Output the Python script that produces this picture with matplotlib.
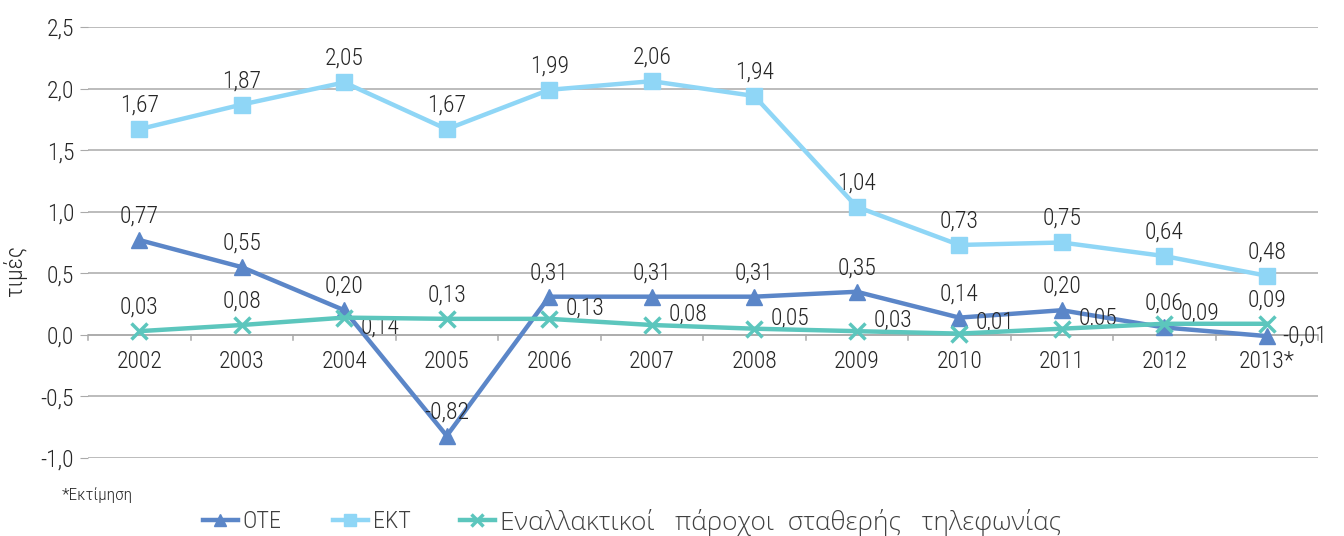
import matplotlib
matplotlib.use("Agg")
import matplotlib.pyplot as plt
from matplotlib.font_manager import FontProperties

plt.rcParams['font.family'] = ['Roboto Condensed', 'DejaVu Sans']
plt.rcParams['font.weight'] = 300

years = ["2002", "2003", "2004", "2005", "2006", "2007", "2008", "2009", "2010", "2011", "2012", "2013*"]
ote = [0.77, 0.55, 0.20, -0.82, 0.31, 0.31, 0.31, 0.35, 0.14, 0.20, 0.06, -0.01]
ekt = [1.67, 1.87, 2.05, 1.67, 1.99, 2.06, 1.94, 1.04, 0.73, 0.75, 0.64, 0.48]
alt = [0.03, 0.08, 0.14, 0.13, 0.13, 0.08, 0.05, 0.03, 0.01, 0.05, 0.09, 0.09]
names = ["OTE", "EKT", "Εναλλακτικοί   πάροχοι  σταθερής   τηλεφωνίας"]

# where each value label sits: a = above, r = right (up), rd = right (down), r0 = right
pos_ote = ["a"] * 11 + ["r0"]
pos_ekt = ["a"] * 12
pos_alt = ["a", "a", "rd", "a", "r", "r", "r", "r", "r", "r", "r", "a"]

c_ote = "#5b86c8"
c_ekt = "#8fd6f6"
c_alt = "#5cc6bd"
txt = "#262626"
fs = 17

fig = plt.figure(figsize=(13.44, 5.36), dpi=100)
ax = fig.add_axes([88/1344, 1-458/536, (1318-88)/1344, (458-27)/536])

x = list(range(len(years)))
h1, = ax.plot(x, ote, color=c_ote, lw=3.2, marker="^", ms=11, zorder=3)
h2, = ax.plot(x, ekt, color=c_ekt, lw=3.2, marker="s", ms=11, zorder=3)
h3, = ax.plot(x, alt, color=c_alt, lw=3.2, marker="x", ms=11, mew=2.5, zorder=4)

offsets = {"a": (0, 9, "center", "bottom"), "r": (12, 8, "left", "center"),
           "r0": (11, 0, "left", "center"), "rd": (12, -7, "left", "center")}

def lab(vals, where):
    for i, (v, w) in enumerate(zip(vals, where)):
        dx, dy, ha, va = offsets[w]
        ax.annotate(f"{v:.2f}".replace(".", ","), (i, v), xytext=(dx, dy),
                    textcoords="offset points", ha=ha, va=va, fontsize=fs,
                    color=txt, annotation_clip=False)

lab(ote, pos_ote)
lab(ekt, pos_ekt)
lab(alt, pos_alt)

ax.set_xlim(-0.5, len(years) - 0.5)
ax.set_ylim(-1.0, 2.5)
yt = [-1.0, -0.5, 0.0, 0.5, 1.0, 1.5, 2.0, 2.5]
ax.set_yticks(yt)
ax.set_yticklabels([f"{t:.1f}".replace(".", ",") for t in yt], fontsize=fs, color=txt)
ax.tick_params(axis="y", length=6, color="#aaaaaa", pad=4)
ax.grid(axis="y", color="#aaaaaa", lw=1.1)
ax.set_axisbelow(True)
for s in ["top", "right", "left", "bottom"]:
    ax.spines[s].set_visible(False)

# category axis drawn on the zero line
ax.axhline(0, color="#aaaaaa", lw=1.1, zorder=1)
ax.set_xticks([])
for b in range(len(years) + 1):
    ax.plot([b - 0.5, b - 0.5], [0, -0.045], color="#aaaaaa", lw=1.1, clip_on=False, zorder=1)
for i, y in enumerate(years):
    ax.annotate(y, (i, 0), xytext=(0, -11), textcoords="offset points",
                ha="center", va="top", fontsize=fs, color=txt)

fig.text(15/1344, 1-270/536, "τιμές", rotation=90, ha="center", va="center", fontsize=fs, color=txt)
fig.text(62/1344, 1-495/536, "*Εκτίμηση", ha="left", va="center", fontsize=12.5, color=txt)

# one legend per entry so each one sits where the reference has it
leg_x = [203, 333, 460]
fonts = [FontProperties(family=["Roboto Condensed", "DejaVu Sans"], weight=300, size=17.5),
         FontProperties(family=["Roboto Condensed", "DejaVu Sans"], weight=300, size=17.5),
         FontProperties(family=["Open Sans", "DejaVu Sans"], weight=300, size=19)]
for h, name, lx, fp in zip([h1, h2, h3], names, leg_x, fonts):
    fig.legend(handles=[h], labels=[name], loc="center left",
               bbox_to_anchor=(lx/1344, 1-522/536), frameon=False, prop=fp,
               borderpad=0, borderaxespad=0, handlelength=25/fp.get_size(),
               handletextpad=3.5/fp.get_size(), markerscale=0.75, labelcolor="#404040")

fig.savefig("out.png", dpi=100)
